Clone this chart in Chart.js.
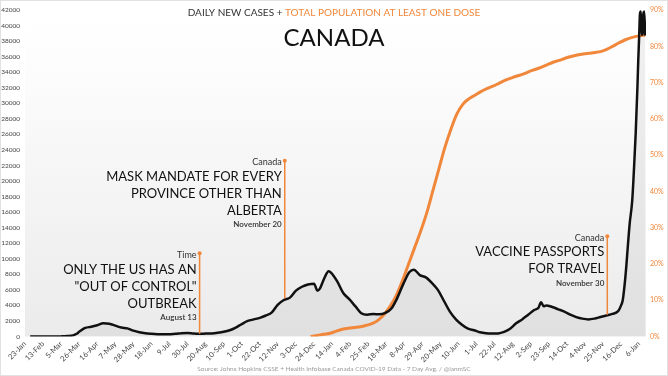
<!DOCTYPE html>
<html>
<head>
<meta charset="utf-8">
<title>Canada - daily new cases + at least one dose</title>
<script src="https://cdn.jsdelivr.net/npm/chart.js@4.4.1/dist/chart.umd.min.js"></script>
<style>
    html, body { margin: 0; padding: 0; background: #fff; }
    #wrap { position: relative; width: 668px; height: 376px; }
</style>
</head>
<body>
<div id="wrap"><canvas id="canadaChart"></canvas></div>
<script>
// x axis: days since 23-Jan-2020, one label every 21 days
const tickLabels = ['23-Jan', '13-Feb', '5-Mar', '26-Mar', '16-Apr', '7-May', '28-May', '18-Jun', '9-Jul', '30-Jul',
    '20-Aug', '10-Sep', '1-Oct', '22-Oct', '12-Nov', '3-Dec', '24-Dec', '14-Jan', '4-Feb', '25-Feb', '18-Mar',
    '8-Apr', '29-Apr', '20-May', '10-Jun', '1-Jul', '22-Jul', '12-Aug', '2-Sep', '23-Sep', '14-Oct', '4-Nov',
    '25-Nov', '16-Dec', '6-Jan'];

// daily new cases, 7 day average
const caseDays = [6, 14, 21, 28, 35, 42, 49, 56, 60, 63, 70, 77, 84, 91, 98, 105, 112, 119, 126, 133, 140, 147,
    154, 161, 168, 175, 182, 189, 196, 203, 210, 217, 224, 231, 238, 245, 252, 259, 266, 273, 280, 287, 294, 301,
    308, 315, 322, 329, 336, 340, 343, 348, 353, 356, 363, 370, 377, 384, 391, 398, 405, 412, 419, 426, 433, 440,
    447, 452, 459, 466, 473, 480, 487, 494, 501, 508, 515, 522, 529, 536, 543, 550, 557, 564, 571, 578, 585, 592,
    597, 600, 603, 606, 613, 620, 627, 634, 641, 648, 655, 662, 669, 676, 683, 690, 693, 695, 697, 699, 701, 703,
    706, 708, 710, 712, 713, 714, 715, 716, 717, 718, 719, 720, 721];
const caseAvg = [0, 0, 2, 5, 8, 15, 50, 150, 350, 600, 1100, 1250, 1450, 1700, 1650, 1400, 1150, 1050, 750, 550, 420, 350,
    300, 280, 300, 340, 430, 450, 380, 350, 380, 400, 480, 600, 800, 1150, 1600, 2000, 2200, 2400, 2700, 3100, 4100, 4700,
    5000, 5900, 6400, 6700, 6800, 5900, 6200, 7500, 8400, 8200, 7100, 5600, 4800, 3900, 3000, 2800, 2900, 2850, 3050, 3600, 5000, 6800,
    8300, 8600, 7900, 7600, 6900, 6000, 4600, 3200, 2200, 1500, 1000, 800, 550, 420, 380, 400, 600, 1000, 1700, 2200, 2800, 3400,
    3700, 4400, 3900, 4000, 3800, 3500, 3200, 2800, 2500, 2300, 2200, 2300, 2500, 2700, 2900, 3300, 4000, 4700, 6500, 8900, 11800, 14500,
    17500, 21500, 26100, 32000, 35500, 38500, 41500, 41800, 38800, 39000, 41600, 41800, 38700];

// total population with at least one dose, %
const doseDays = [332, 340, 347, 355, 362, 369, 376, 383, 390, 397, 404, 411, 418, 425, 432, 439, 446, 453, 460, 467,
    474, 481, 488, 495, 502, 509, 516, 523, 530, 537, 544, 551, 558, 565, 572, 579, 586, 593, 600, 607, 614, 621,
    628, 635, 642, 649, 656, 663, 670, 677, 684, 691, 698, 705, 712, 721];
const dosePct = [0, 0.3, 0.6, 0.9, 1.5, 2.0, 2.3, 2.5, 2.7, 3.1, 3.6, 4.6, 6.2, 8.5, 11.5, 15.5, 20, 24.5, 29, 34,
    40, 46, 52, 57, 61.3, 64, 65.5, 66.5, 67.5, 68.3, 69, 69.8, 70.6, 71.2, 71.8, 72.3, 73, 73.6, 74.2, 74.9, 75.6, 76.1,
    76.7, 77.2, 77.6, 77.9, 78.1, 78.3, 78.6, 79.2, 80.1, 81.0, 81.8, 82.4, 82.8, 83.1];

// annotations (day of event, top of the marker in cases, where it meets the curve)
const notes = [
    { day: 203, top: 10700, bottom: 350, source: 'Time', lines: ['ONLY THE US HAS AN', '"OUT OF CONTROL"', 'OUTBREAK'], date: 'August 13' },
    { day: 302, top: 22600, bottom: 4900, source: 'Canada', lines: ['MASK MANDATE FOR EVERY', 'PROVINCE OTHER THAN', 'ALBERTA'], date: 'November 20' },
    { day: 677, top: 12900, bottom: 2800, source: 'Canada', lines: ['VACCINE PASSPORTS', 'FOR TRAVEL'], date: 'November 30' }
];

const ORANGE = '#f0873a';
const FONT = 'Lato, "Open Sans", sans-serif';

Chart.defaults.font.family = FONT;

// light grey gradient behind the plot
const backdrop = {
    id: 'backdrop',
    beforeDraw(chart) {
        const { ctx, chartArea: a } = chart;
        const g = ctx.createLinearGradient(0, a.top, 0, a.bottom);
        g.addColorStop(0, '#ffffff');
        g.addColorStop(0.15, '#fdfdfd');
        g.addColorStop(1, '#ebebeb');
        ctx.save();
        ctx.fillStyle = g;
        ctx.fillRect(a.left, a.top, a.right - a.left, a.bottom - a.top);
        ctx.restore();
    }
};

// titles, event markers and source line
const overlay = {
    id: 'overlay',
    afterDatasetsDraw(chart) {
        const ctx = chart.ctx;
        const xs = chart.scales.x, ys = chart.scales.y;
        ctx.save();

        notes.forEach(n => {
            const x = xs.getPixelForValue(n.day);
            const yTop = ys.getPixelForValue(n.top);
            const yBot = ys.getPixelForValue(n.bottom);
            ctx.strokeStyle = ORANGE;
            ctx.lineWidth = 1.5;
            ctx.beginPath();
            ctx.moveTo(x, yTop);
            ctx.lineTo(x, yBot);
            ctx.stroke();
            ctx.fillStyle = ORANGE;
            ctx.beginPath();
            ctx.arc(x, yTop, 2, 0, Math.PI * 2);
            ctx.fill();

            const tx = x - 3;
            ctx.textAlign = 'right';
            ctx.textBaseline = 'middle';
            ctx.fillStyle = '#333';
            ctx.font = '9px ' + FONT;
            ctx.fillText(n.source, tx, yTop + 1.5);
            ctx.fillStyle = '#111';
            ctx.font = '13px ' + FONT;
            n.lines.forEach((l, i) => ctx.fillText(l, tx, yTop + 16 + i * 17));
            ctx.fillStyle = '#333';
            ctx.font = '600 8px ' + FONT;
            ctx.fillText(n.date, tx, yTop + 16 + (n.lines.length - 1) * 17 + 14);
        });

        // header
        const cx = 334;
        ctx.textBaseline = 'middle';
        ctx.font = '10px ' + FONT;
        const a = 'DAILY NEW CASES + ', b = 'TOTAL POPULATION AT LEAST ONE DOSE';
        const wa = ctx.measureText(a).width, wb = ctx.measureText(b).width;
        const x0 = cx - (wa + wb) / 2;
        ctx.textAlign = 'left';
        ctx.fillStyle = '#333';
        ctx.fillText(a, x0, 13);
        ctx.fillStyle = ORANGE;
        ctx.fillText(b, x0 + wa, 13);

        ctx.textAlign = 'center';
        ctx.fillStyle = '#111';
        ctx.font = '24px ' + FONT;
        ctx.fillText('CANADA', cx, 38);

        ctx.fillStyle = '#9a9a9a';
        ctx.font = '6.5px ' + FONT;
        ctx.fillText('Source: Johns Hopkins CSSE + Health Infobase Canada COVID-19 Data - 7 Day Avg. / @ianmSC', cx, 369);

        // thin frame
        ctx.strokeStyle = '#e2e2e2';
        ctx.lineWidth = 1;
        ctx.strokeRect(0.5, 0.5, chart.width - 1, chart.height - 1);
        ctx.restore();
    }
};

function initCanadaChart() {
    const ctx = document.getElementById('canadaChart').getContext('2d');

    new Chart(ctx, {
        type: 'line',
        data: {
            datasets: [
                {
                    label: 'Daily new cases (7 day avg.)',
                    data: caseDays.map((d, i) => ({ x: d, y: caseAvg[i] })),
                    yAxisID: 'y',
                    borderColor: '#111',
                    borderWidth: 2.5,
                    backgroundColor: 'rgba(170, 170, 170, 0.16)',
                    fill: 'origin',
                    pointRadius: 0,
                    cubicInterpolationMode: 'monotone'
                },
                {
                    label: 'At least one dose',
                    data: doseDays.map((d, i) => ({ x: d, y: dosePct[i] })),
                    yAxisID: 'y1',
                    borderColor: ORANGE,
                    borderWidth: 3,
                    pointRadius: 0,
                    fill: false,
                    cubicInterpolationMode: 'monotone'
                }
            ]
        },
        options: {
            responsive: true,
            maintainAspectRatio: false,
            animation: false,
            layout: { padding: { top: 10, left: 0, right: 0, bottom: 0 } },
            plugins: {
                legend: { display: false },
                tooltip: { enabled: false },
                filler: { drawTime: 'beforeDatasetsDraw' }
            },
            scales: {
                x: {
                    type: 'linear',
                    min: 0,
                    max: 722,
                    grid: { display: false, drawTicks: false },
                    border: { display: false },
                    afterBuildTicks: axis => {
                        axis.ticks = tickLabels.map((l, i) => ({ value: i * 21 }));
                    },
                    afterFit: s => { s.height = 39.5; },
                    ticks: {
                        autoSkip: false,
                        minRotation: 45,
                        maxRotation: 45,
                        padding: 3,
                        color: '#444',
                        font: { size: 7.5 },
                        callback: (v, i) => tickLabels[i]
                    }
                },
                y: {
                    position: 'left',
                    min: 0,
                    max: 42000,
                    grid: { display: false, drawTicks: false },
                    border: { display: false },
                    afterFit: s => { s.width = 25; },
                    ticks: {
                        stepSize: 2000,
                        padding: 5,
                        color: '#444',
                        font: { size: 6.5 },
                        callback: v => String(v)
                    }
                },
                y1: {
                    position: 'right',
                    min: 0,
                    max: 90,
                    grid: { display: false, drawTicks: false },
                    border: { display: false },
                    afterFit: s => { s.width = 22; },
                    ticks: {
                        stepSize: 10,
                        padding: 4,
                        color: ORANGE,
                        font: { size: 7 },
                        callback: v => v + '%'
                    }
                }
            }
        },
        plugins: [backdrop, overlay]
    });
}

document.addEventListener('DOMContentLoaded', initCanadaChart);
</script>
</body>
</html>
